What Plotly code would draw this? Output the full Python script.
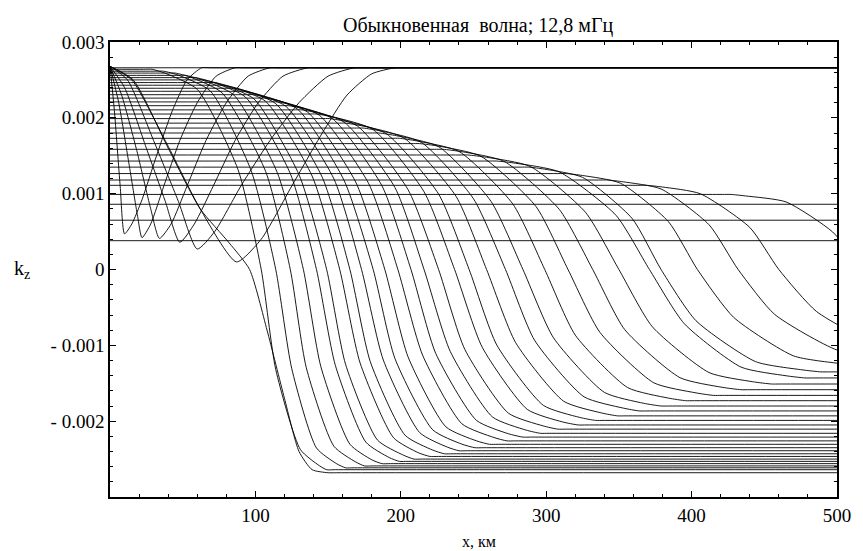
import plotly.graph_objects as go

KMAX = 500
# rays that stay at constant k_z over the whole range
flat_levels = [0.00266, 0.00086, 0.00065, 0.00038]

# near-vertical rays that dip and come back to the top level: (x km, k_z)
u_curves = [
    [(0, 0.00268), (3, 0.0021), (7, 0.0011), (10, 0.00047), (15, 0.0006), (22, 0.00092), (32, 0.0015), (43, 0.0021), (53, 0.0025), (63, 0.00266)],
    [(0, 0.00268), (6, 0.0022), (13, 0.0014), (19, 0.0007), (22, 0.00042), (28, 0.0006), (37, 0.0011), (48, 0.0017), (60, 0.0022), (73, 0.00255), (86, 0.00266)],
    [(0, 0.00268), (8, 0.0023), (18, 0.0016), (28, 0.0008), (34, 0.00041), (42, 0.0006), (53, 0.0011), (66, 0.0017), (80, 0.0022), (95, 0.00255), (110, 0.00266)],
    [(0, 0.00268), (10, 0.0024), (25, 0.0016), (38, 0.0009), (48, 0.00036), (58, 0.0006), (71, 0.0011), (86, 0.0017), (102, 0.0022), (119, 0.00255), (136, 0.00266)],
    [(0, 0.00268), (12, 0.0025), (30, 0.0017), (47, 0.0009), (60, 0.00027), (72, 0.0005), (90, 0.0011), (110, 0.0017), (130, 0.0022), (150, 0.00255), (168, 0.00266)],
    [(0, 0.00268), (15, 0.0025), (38, 0.0017), (62, 0.0008), (87, 0.0001), (104, 0.0004), (125, 0.0011), (146, 0.0018), (163, 0.0023), (180, 0.00258), (196, 0.00266)],
]
# the first ray that reflects
first_desc = [(0, 0.00268), (16, 0.0025), (40, 0.0016), (62, 0.0008), (82, 0.00035), (96, 0.0), (108, -0.0008), (120, -0.0017), (130, -0.0024), (139, -0.00264), (150, -0.00268), (156, -0.00268), (500, -0.00268)]

# reflected rays: start level k0 and the x (km) where each one passes
# k0 (leaves the flat part), 0.98*k0, 0.9*k0, 0.5*k0, 0, -0.5*k0, -0.9*k0, -0.98*k0, -k0
desc_k0 = [0.00264, 0.002615, 0.00259, 0.00256, 0.00253, 0.00250, 0.002465, 0.00243, 0.00239, 0.00235,
           0.002305, 0.00226, 0.00221, 0.00216, 0.002105, 0.00205, 0.00199, 0.00193, 0.001865, 0.00180,
           0.00173, 0.00166, 0.001585, 0.00151, 0.00143, 0.00135, 0.001265, 0.00118, 0.00111, 0.00099]
desc_xs = [29, 37, 45, 52, 59, 64, 72, 78, 85, 92, 99, 107, 115, 123, 132, 142, 151, 162, 174, 185,
           199, 213, 229, 246, 266, 288, 314, 342, 369, 427]
desc_x98 = [38, 47, 55, 62, 69, 75, 82, 89, 96, 103, 110, 118, 126, 134, 143, 154, 163, 174, 186, 197,
            211, 226, 242, 259, 279, 299, 325, 353, 380, 437]
desc_x90 = [60, 69, 77, 85, 93, 99, 107, 114, 121, 129, 136, 144, 153, 161, 170, 181, 190, 202, 214, 226,
            240, 255, 271, 289, 309, 325, 351, 379, 406, 465]
desc_x50 = [88, 97, 107, 115, 124, 130, 139, 146, 154, 161, 169, 178, 187, 196, 205, 216, 226, 238, 250, 262,
            277, 293, 309, 327, 348, 359, 384, 412, 440, 497]
desc_xz = [104, 114, 124, 133, 142, 149, 158, 165, 173, 181, 189, 198, 207, 216, 226, 237, 247, 259, 272, 284,
           299, 315, 332, 350, 371, 379, 404, 432, 460, 518]
desc_xm50 = [114, 125, 135, 145, 155, 162, 172, 179, 188, 196, 205, 215, 224, 234, 244, 256, 266, 279, 292, 305,
             320, 337, 354, 373, 395, 403, 429, 457, 486, 544]
desc_xm90 = [131, 142, 154, 165, 176, 184, 195, 203, 213, 222, 231, 242, 252, 263, 274, 287, 298, 312, 326, 340,
             356, 374, 392, 412, 434, 444, 470, 500, 529, 588]
desc_xm98 = [144, 156, 169, 180, 192, 202, 212, 222, 232, 242, 252, 264, 274, 286, 298, 311, 323, 338, 353, 367,
             384, 403, 421, 442, 465, 476, 502, 533, 563, 623]
desc_xb = [149, 162, 175, 187, 199, 209, 220, 230, 240, 251, 261, 273, 284, 296, 308, 322, 334, 349, 364, 379,
           396, 415, 434, 455, 478, 489, 516, 547, 577, 640]
desc_frac = [1.0, 1.0, 1.0, 0.98, 0.9, 0.5, 0.0, -0.5, -0.9, -0.98, -1.0, -1.0, -1.0]

fig = go.Figure()
LINE = dict(color="black", width=0.9)
SPL = dict(color="black", width=0.9, shape="spline", smoothing=0.6)

def add(xs, ys, spline=True):
    fig.add_trace(go.Scatter(x=xs, y=ys, mode="lines", line=SPL if spline else LINE,
                             showlegend=False, hoverinfo="skip"))

for lv in flat_levels:
    add([0, KMAX], [lv, lv], spline=False)
for c in u_curves:
    add([p[0] for p in c] + [c[-1][0] + 6, 900], [p[1] for p in c] + [c[-1][1], c[-1][1]])
add([p[0] for p in first_desc], [p[1] for p in first_desc])
for i, k0 in enumerate(desc_k0):
    xs = [0, max(desc_xs[i] - 6, 0), desc_xs[i], desc_x98[i], desc_x90[i], desc_x50[i], desc_xz[i],
          desc_xm50[i], desc_xm90[i], desc_xm98[i], desc_xb[i], desc_xb[i] + 6, 900]
    add(xs, [k0 * f for f in desc_frac])

font_serif = "Liberation Serif, Times New Roman, serif"
axis_common = dict(showline=True, linecolor="black", linewidth=1.5, mirror="allticks",
                   ticks="inside", ticklen=6, tickcolor="black", tickwidth=1,
                   showgrid=False, zeroline=False,
                   tickfont=dict(family=font_serif, size=19, color="black"))
fig.update_layout(
    width=863, height=551,
    margin=dict(l=110, r=17, t=42, b=54),
    plot_bgcolor="white", paper_bgcolor="white",
    title=dict(text="Обыкновенная&nbsp; волна; 12,8 мГц", x=0.554, xanchor="center", y=0.955, yanchor="middle",
               font=dict(family=font_serif, size=20, color="black")),
    xaxis=dict(range=[0, KMAX], tickvals=[100, 200, 300, 400, 500],
               minor=dict(dtick=20, ticklen=3, ticks="inside", tickcolor="black"), **axis_common),
    yaxis=dict(range=[-0.003, 0.003], tickvals=[-0.002, -0.001, 0, 0.001, 0.002, 0.003],
               ticktext=["- 0.002", "- 0.001", "0", "0.001", "0.002", "0.003"],
               minor=dict(dtick=0.0002, ticklen=3, ticks="inside", tickcolor="black"), **axis_common),
    annotations=[
        dict(text="k<sub>z</sub>", xref="paper", yref="paper", x=-0.121, y=0.5, showarrow=False,
             xanchor="center", yanchor="middle", font=dict(family=font_serif, size=20, color="black")),
        dict(text="x, км", xref="paper", yref="paper", x=0.508, y=-0.097, showarrow=False,
             xanchor="center", yanchor="middle", font=dict(family=font_serif, size=16, color="black")),
    ],
)
fig.write_html("out.html")
